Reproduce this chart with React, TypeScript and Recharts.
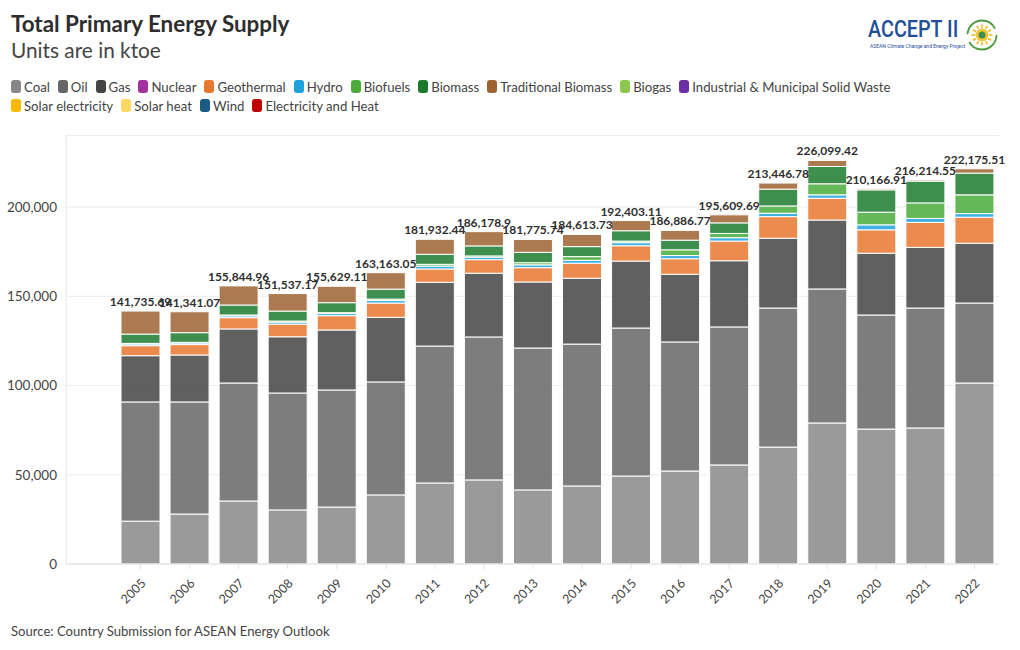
import React from "react";
import { Bar, BarChart, CartesianGrid, LabelList, XAxis, YAxis } from "recharts";

// values in ktoe
const years = ["2005", "2006", "2007", "2008", "2009", "2010", "2011", "2012", "2013", "2014", "2015", "2016", "2017", "2018", "2019", "2020", "2021", "2022"];

const coal = [24000, 28000, 35300, 30300, 31900, 38700, 45400, 47100, 41500, 43700, 49300, 52100, 55500, 65500, 79000, 75600, 76200, 101400];
const oil = [66800, 62800, 66100, 65500, 65600, 63300, 76700, 80100, 79500, 79500, 82900, 72300, 77300, 77900, 75100, 63900, 67200, 44800];
const gas = [25900, 26300, 30300, 31500, 33600, 36200, 35700, 35700, 37000, 36900, 37500, 37900, 37100, 39100, 38600, 34600, 34000, 33500];
const nuclear = [0, 0, 0, 0, 0, 0, 0, 0, 0, 0, 0, 0, 0, 0, 0, 0, 0, 0];
const geothermal = [5600, 5800, 6300, 7100, 8000, 8000, 7500, 7600, 8000, 8400, 8600, 8700, 11000, 12100, 12200, 13100, 14000, 14600];
const hydro = [900, 900, 1000, 1100, 1200, 1400, 1600, 1400, 1600, 1600, 1700, 1800, 1900, 1900, 1900, 2800, 2200, 2000];
const biofuels = [400, 400, 500, 600, 500, 800, 1000, 700, 1200, 2100, 900, 3200, 2400, 4100, 6200, 7100, 8700, 10500];
const biomass = [5200, 5400, 5600, 5600, 5600, 5600, 5600, 5600, 5800, 5600, 5800, 5400, 5900, 9400, 9700, 12500, 12200, 12200];
const tradBiomass = [12900, 11700, 10700, 9800, 9200, 9200, 8400, 8000, 7200, 6800, 5700, 5500, 4500, 3400, 3400, 600, 600, 2400];
const biogas = [0, 0, 0, 0, 0, 0, 0, 0, 0, 0, 0, 0, 0, 0, 0, 0, 0, 0];
const waste = [0, 0, 0, 0, 0, 0, 0, 0, 0, 0, 0, 0, 0, 0, 0, 0, 0, 0];
const solarElec = [0, 0, 0, 0, 0, 0, 0, 0, 0, 0, 0, 0, 0, 0, 0, 0, 0, 0];
const solarHeat = [0, 0, 0, 0, 0, 0, 0, 0, 0, 0, 0, 0, 0, 0, 0, 0, 0, 0];
const wind = [0, 0, 0, 0, 0, 0, 0, 0, 0, 0, 0, 0, 0, 0, 0, 0, 0, 0];
const elecHeat = [0, 0, 0, 0, 0, 0, 0, 0, 0, 0, 0, 0, 0, 0, 0, 0, 0, 0];

const totals = [141735.69, 141341.07, 155844.96, 151537.17, 155629.11, 163163.05, 181932.44, 186178.9, 181775.74, 184613.73, 192403.11, 186886.77, 195609.69, 213446.78, 226099.42, 210166.91, 216214.55, 222175.51];

const yTicks = [0, 50000, 100000, 150000, 200000];

const series = [
	{ name: "Coal", color: "#888888", values: coal },
	{ name: "Oil", color: "#666666", values: oil },
	{ name: "Gas", color: "#444444", values: gas },
	{ name: "Nuclear", color: "#a3329f", values: nuclear },
	{ name: "Geothermal", color: "#e8772f", values: geothermal },
	{ name: "Hydro", color: "#1da2dc", values: hydro },
	{ name: "Biofuels", color: "#4aab3a", values: biofuels },
	{ name: "Biomass", color: "#1c7a2f", values: biomass },
	{ name: "Traditional Biomass", color: "#9c6331", values: tradBiomass },
	{ name: "Biogas", color: "#8cc84c", values: biogas },
	{ name: "Industrial & Municipal Solid Waste", color: "#6a2fa3", values: waste },
	{ name: "Solar electricity", color: "#f9b800", values: solarElec },
	{ name: "Solar heat", color: "#fcd865", values: solarHeat },
	{ name: "Wind", color: "#1b5b82", values: wind },
	{ name: "Electricity and Heat", color: "#c00000", values: elecHeat },
];

const data = years.map((year, i) => {
	const row: any = { year, total: totals[i] };
	series.forEach((s) => {
		row[s.name] = s.values[i];
	});
	return row;
});

const font = "Lato, 'Noto Sans', sans-serif";

const YearTick = ({ x, y, payload }: any) => (
	<text
		x={x + 6}
		y={y + 13}
		transform={`rotate(-45 ${x + 6} ${y + 13})`}
		textAnchor="end"
		fontSize={12.5}
		fill="#444"
		fontFamily={font}>
		{payload.value}
	</text>
);

const TotalLabel = ({ x, y, width, value }: any) => (
	<text
		x={x + width / 2}
		y={y - 5}
		textAnchor="middle"
		fontSize={12}
		fontWeight={700}
		fill="#2f2f2f"
		fontFamily={font}>
		{Number(value).toLocaleString("en-US", { maximumFractionDigits: 2 })}
	</text>
);

const Logo = () => (
	<div style={{ position: "absolute", left: 866, top: 16, width: 140, height: 40 }}>
		<div
			style={{
				position: "absolute",
				left: 2,
				top: 0,
				fontFamily: "Roboto, sans-serif",
				fontSize: 23,
				color: "#1f4f98",
				fontWeight: 500,
				transform: "scaleX(0.86)",
				transformOrigin: "left top",
				whiteSpace: "nowrap",
			}}>
			ACCEPT II
		</div>
		<div style={{ position: "absolute", left: 4, top: 27, fontFamily: "Roboto, sans-serif", fontSize: 5, color: "#1f4f98", whiteSpace: "nowrap" }}>
			ASEAN Climate Change and Energy Project
		</div>
		<svg style={{ position: "absolute", left: 99, top: 2 }} width={34} height={34}>
			<circle cx={17} cy={17} r={14.5} fill="none" stroke="#4b9a3c" strokeWidth={1.8} strokeDasharray="38 8" />
			{[0, 30, 60, 90, 120, 150, 180, 210, 240, 270, 300, 330].map((a) => (
				<line
					key={a}
					x1={17 + 7 * Math.cos((a * Math.PI) / 180)}
					y1={17 + 7 * Math.sin((a * Math.PI) / 180)}
					x2={17 + 10.5 * Math.cos((a * Math.PI) / 180)}
					y2={17 + 10.5 * Math.sin((a * Math.PI) / 180)}
					stroke="#f5b921"
					strokeWidth={1.6}
				/>
			))}
			<circle cx={17} cy={17} r={6.5} fill="#f5c63a" />
			<circle cx={17} cy={17} r={3.5} fill="#3f8f47" />
		</svg>
	</div>
);

const App = () => {
	return (
		<div style={{ position: "absolute", left: 0, top: 0, width: 1020, height: 650, background: "#fff", fontFamily: font, color: "#333" }}>
			<BarChart
				width={1020}
				height={650}
				data={data}
				barSize={39}
				margin={{ top: 135.6, right: 21, bottom: 20, left: 6 }}>
				<CartesianGrid vertical={false} stroke="#ececec" />
				<XAxis
					dataKey="year"
					height={66}
					padding={{ left: 50, right: 0 }}
					axisLine={{ stroke: "#e2e2e2" }}
					tickLine={{ stroke: "#e2e2e2" }}
					tickSize={5}
					interval={0}
					tick={<YearTick />}
				/>
				<YAxis
					width={60}
					domain={[0, 240000]}
					ticks={yTicks}
					axisLine={{ stroke: "#e6e6e6" }}
					tickLine={false}
					tickMargin={3}
					tick={{ fontSize: 13.5, fill: "#444", fontFamily: font }}
					tickFormatter={(v: number) => v.toLocaleString("en-US")}
				/>
				{series.map((s) => (
					<Bar
						key={s.name}
						dataKey={s.name}
						stackId="tpes"
						fill={s.color}
						fillOpacity={0.85}
						stroke="#fff"
						strokeWidth={1}
						isAnimationActive={false}>
						{s.name === "Traditional Biomass" && (
							<LabelList dataKey="total" content={<TotalLabel />} />
						)}
					</Bar>
				))}
			</BarChart>

			<div style={{ position: "absolute", left: 11, top: 10, fontSize: 22.4, fontWeight: 700, color: "#2e2e2e" }}>
				Total Primary Energy Supply
			</div>
			<div style={{ position: "absolute", left: 11, top: 37, fontSize: 20.8, color: "#444" }}>
				Units are in ktoe
			</div>
			<Logo />

			<div style={{ position: "absolute", left: 11, top: 78, width: 900, display: "flex", flexWrap: "wrap", rowGap: 2, columnGap: 8 }}>
				{series.map((s) => (
					<div key={s.name} style={{ display: "flex", alignItems: "center", height: 17, fontSize: 13.2, color: "#444" }}>
						<span style={{ display: "inline-block", width: 10, height: 13, borderRadius: 3, background: s.color, marginRight: 3 }} />
						{s.name}
					</div>
				))}
			</div>

			<div style={{ position: "absolute", left: 11, top: 623, fontSize: 13.1, color: "#444" }}>
				Source: Country Submission for ASEAN Energy Outlook
			</div>
		</div>
	);
};

export default App;
